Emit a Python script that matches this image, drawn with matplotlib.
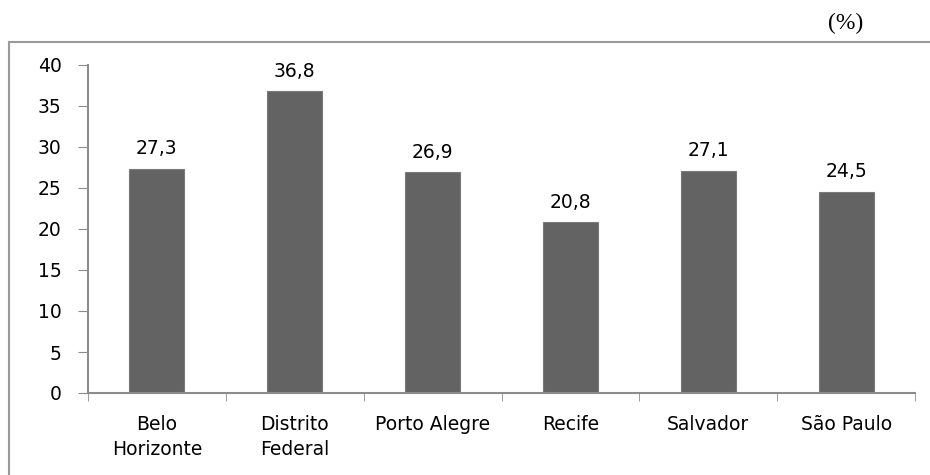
import matplotlib.pyplot as plt
from matplotlib.patches import Rectangle

# data
cidades = ["Belo\nHorizonte", "Distrito\nFederal", "Porto Alegre", "Recife", "Salvador", "São Paulo"]
valores = [27.3, 36.8, 26.9, 20.8, 27.1, 24.5]
yticks = [0, 5, 10, 15, 20, 25, 30, 35, 40]

plt.rcParams["font.family"] = ["DejaVu Sans"]

fig = plt.figure(figsize=(9.3, 4.75), dpi=100)
ax = fig.add_axes([88 / 930, 1 - 393 / 475, (915 - 88) / 930, (393 - 65) / 475])

# outer frame (runs off the right and bottom edges)
fig.patches.append(Rectangle((9 / 930, -0.1), 1.2, 1 - 42 / 475 + 0.1,
                             transform=fig.transFigure, fill=False,
                             edgecolor="#9a9a9a", linewidth=1.5))

x = range(len(cidades))
ax.bar(x, valores, width=0.4, color="#636363", edgecolor="#7a7a7a", linewidth=0.8)

for xi, v in zip(x, valores):
    ax.text(xi, v + 1.3, f"{v:.1f}".replace(".", ","), ha="center", va="bottom",
            fontsize=13.5, color="black")

ax.set_xlim(-0.5, len(cidades) - 0.5)
ax.set_ylim(0, 40)
ax.set_yticks(yticks)
ax.set_xticks(list(x))
ax.set_xticklabels(cidades, fontsize=13.5, linespacing=1.4)
ax.set_xticks([i - 0.5 for i in range(len(cidades) + 1)], minor=True)
ax.tick_params(axis="x", which="major", length=0, pad=16)
ax.tick_params(axis="x", which="minor", length=6, color="#8c8c8c", direction="out")
ax.tick_params(axis="y", length=7, color="#8c8c8c", labelsize=13.5, pad=12)

for side in ["top", "right"]:
    ax.spines[side].set_visible(False)
for side in ["left", "bottom"]:
    ax.spines[side].set_color("#8c8c8c")
    ax.spines[side].set_linewidth(1.5)

fig.text(846 / 930, 1 - 23 / 475, "(%)", ha="center", va="center",
         fontsize=17, family="Liberation Serif")

fig.savefig("out.png", dpi=100)
